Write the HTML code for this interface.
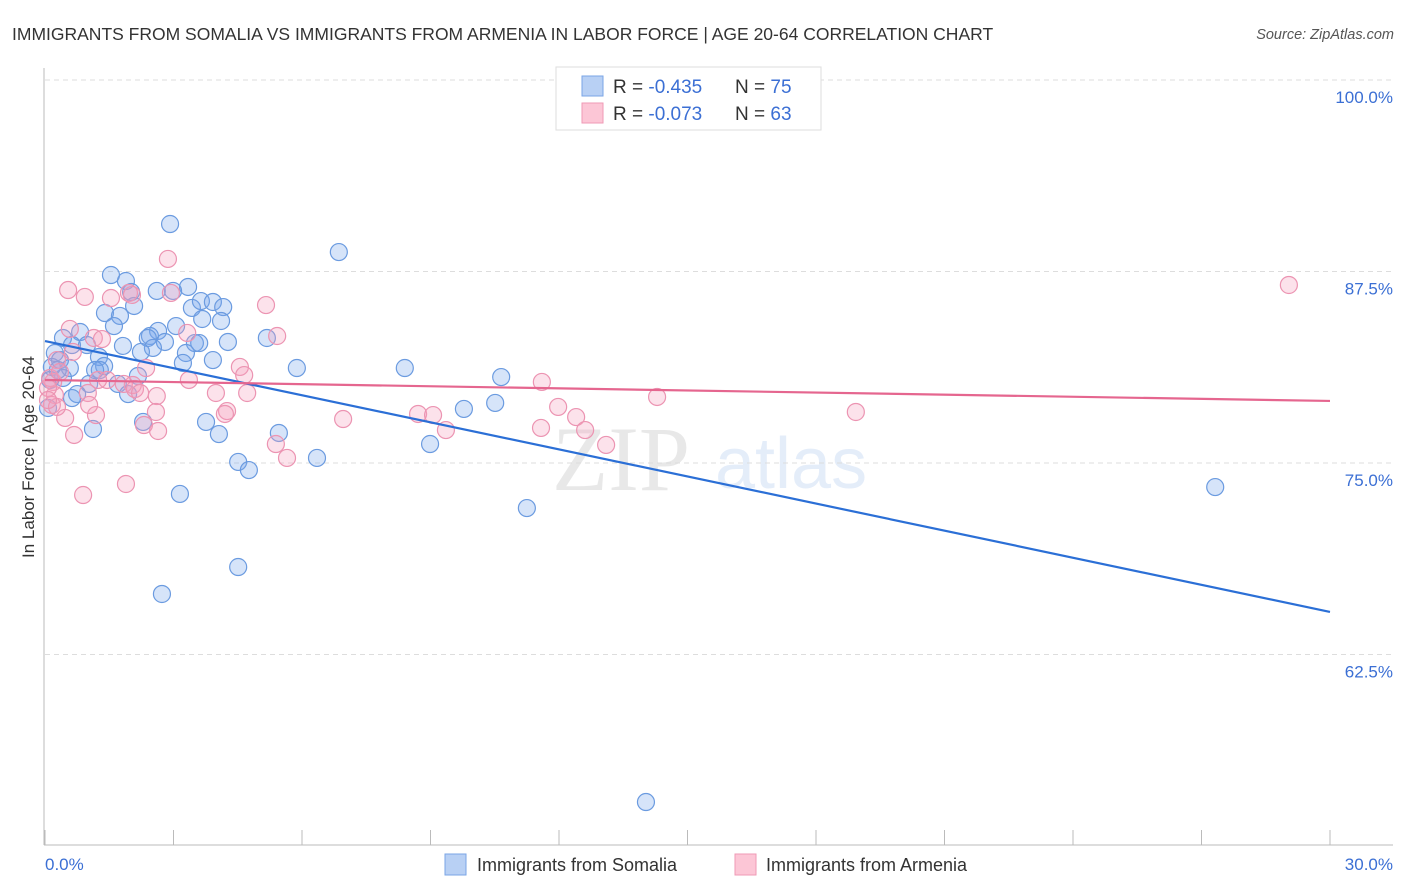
<!DOCTYPE html>
<html><head><meta charset="utf-8"><style>
body{margin:0;background:#fff;font-family:"Liberation Sans",sans-serif;}
svg{display:block}
</style></head><body>
<svg id="chart" width="1406" height="892" xmlns="http://www.w3.org/2000/svg">
<text x="12" y="40" font-size="17.5" fill="#333">IMMIGRANTS FROM SOMALIA VS IMMIGRANTS FROM ARMENIA IN LABOR FORCE | AGE 20-64 CORRELATION CHART</text>
<text x="1394" y="39" font-size="14.5" font-style="italic" fill="#555" text-anchor="end">Source: ZipAtlas.com</text>
<g opacity="0.13">
<text x="552" y="490" font-size="92" font-family="Liberation Serif,serif" fill="#555">ZIP</text>
<text x="715" y="488" font-size="72" fill="#3b78d8">atlas</text>
</g>
<g id="grid"></g>
<line x1="44" y1="68" x2="44" y2="845" stroke="#bbb"/>
<line x1="44" y1="845" x2="1393" y2="845" stroke="#bbb"/>
<g id="xticks"></g>
<g id="ylabels"></g>
<text x="45" y="870" font-size="17" fill="#3b6fd4">0.0%</text>
<text x="1393" y="870" font-size="17" fill="#3b6fd4" text-anchor="end">30.0%</text>
<text transform="translate(34,457) rotate(-90)" font-size="17" fill="#333" text-anchor="middle">In Labor Force | Age 20-64</text>
<g id="pts"></g>
<g id="lines"></g>
<g>
<rect x="556" y="67" width="265" height="63" fill="#fff" stroke="#ddd"/>
<rect x="582" y="76" width="21" height="20" fill="#b8d0f4" stroke="#7aa5e6"/>
<rect x="582" y="103" width="21" height="20" fill="#fcc6d6" stroke="#ef9ab5"/>
<text x="613" y="93" font-size="19" fill="#333">R = <tspan fill="#3b6fd4">-0.435</tspan><tspan x="735">N = </tspan><tspan fill="#3b6fd4">75</tspan></text>
<text x="613" y="120" font-size="19" fill="#333">R = <tspan fill="#3b6fd4">-0.073</tspan><tspan x="735">N = </tspan><tspan fill="#3b6fd4">63</tspan></text>
</g>
<g>
<rect x="445" y="854" width="21" height="21" fill="#b8d0f4" stroke="#7aa5e6"/>
<text x="477" y="871" font-size="18" fill="#333">Immigrants from Somalia</text>
<rect x="735" y="854" width="21" height="21" fill="#fcc6d6" stroke="#ef9ab5"/>
<text x="766" y="871" font-size="18" fill="#333">Immigrants from Armenia</text>
</g>
</svg>
<script>
const yTicks=[100,87.5,75,62.5];
const yTickLabels=["100.0%","87.5%","75.0%","62.5%"];
const xTickVals=[0,3,6,9,12,15,18,21,24,27,30];
const somaliaX=[2.92,6.86,1.54,1.89,2.01,2.61,3.34,2.99,2.08,3.43,3.64,3.92,4.16,1.40,1.75,3.67,4.11,1.61,3.06,2.64,2.45,2.40,2.80,0.42,0.82,0.63,0.98,1.82,3.50,3.60,4.27,5.18,2.52,2.24,3.29,3.92,0.23,0.35,1.26,1.38,1.28,0.58,5.88,8.40,2.17,0.42,10.65,1.03,1.70,1.94,0.75,10.51,9.78,2.29,3.76,1.12,4.06,5.46,8.99,4.51,6.35,4.76,3.15,11.25,27.32,4.51,2.73,14.03,0.16,0.07,0.12,0.30,1.17,0.63,3.22];
const somaliaY=[90.60,88.77,87.27,86.88,86.16,86.23,86.49,86.23,85.25,85.12,85.57,85.51,85.18,84.79,84.60,84.40,84.27,83.94,83.94,83.62,83.29,83.16,82.90,83.16,83.55,82.70,82.70,82.64,82.83,82.83,82.90,83.16,82.51,82.25,82.18,81.72,82.18,81.72,81.92,81.33,81.07,81.20,81.20,81.20,80.68,80.55,80.61,80.16,80.16,79.50,79.50,78.92,78.53,77.68,77.68,77.22,76.89,76.96,76.24,75.07,75.33,74.54,72.98,72.06,73.43,68.21,66.45,52.87,81.27,78.59,80.42,81.07,81.07,79.24,81.53];
const armeniaX=[0.54,0.93,1.96,2.87,2.94,5.16,1.54,0.58,1.14,1.33,5.42,3.32,0.65,0.28,2.36,4.55,4.65,3.36,1.45,2.05,1.84,0.19,0.23,1.00,2.61,3.99,4.72,11.60,14.29,18.93,11.98,8.71,9.06,12.40,4.25,2.59,1.19,0.47,2.31,6.96,11.58,9.36,2.64,0.68,12.61,5.39,13.10,5.65,0.89,1.89,29.04,0.12,0.16,0.28,1.24,1.03,2.10,4.20,0.35,0.07,2.22,2.03,0.07];
const armeniaY=[86.29,85.84,86.10,88.32,86.10,85.31,85.77,83.75,83.16,83.09,83.29,83.49,82.25,81.72,81.20,81.27,80.74,80.42,80.42,80.09,80.16,80.29,79.44,79.57,79.37,79.57,79.57,80.29,79.31,78.33,78.66,78.20,78.13,78.00,78.39,78.33,78.13,77.94,77.48,77.87,77.29,77.15,77.09,76.83,77.15,76.24,76.18,75.33,72.91,73.63,86.62,80.55,78.79,78.66,80.42,78.79,79.83,78.20,80.94,79.90,79.57,85.97,79.11];
const somaliaTrend=[82.96,65.28];
const armeniaTrend=[80.42,79.05];
const NS="http://www.w3.org/2000/svg";
function sx(v){return 45+v/30*1285;}
function sy(v){return 80+(100-v)/12.5*191.5;}
function mk(tag,attrs,parent){const e=document.createElementNS(NS,tag);for(const k in attrs)e.setAttribute(k,attrs[k]);parent.appendChild(e);return e;}
const grid=document.getElementById('grid'),yl=document.getElementById('ylabels'),xt=document.getElementById('xticks');
yTicks.forEach((t,i)=>{
 const l=mk('line',{x1:45,x2:1393,y1:sy(t),y2:sy(t),stroke:'#ddd','stroke-dasharray':'5,4'},grid);
 
 
 const tx=mk('text',{x:1393,y:sy(t)+23,'font-size':17,fill:'#3b6fd4','text-anchor':'end'},yl);
 tx.textContent=yTickLabels[i];
 
 
});
xTickVals.forEach(v=>{
 const l=mk('line',{x1:sx(v),x2:sx(v),y1:830,y2:845,stroke:'#bbb'},xt);
 
 
});
const pts=document.getElementById('pts');
function series(xs,ys,fill,stroke,name){
 xs.forEach((x,i)=>{
  const c=mk('circle',{cx:sx(x),cy:sy(ys[i]),r:8.5,fill:fill,stroke:stroke,'stroke-width':1.2},pts);
  
  
 });
}
series(somaliaX,somaliaY,'rgba(120,165,235,0.3)','#6b9be0','point-somalia');
series(armeniaX,armeniaY,'rgba(245,160,190,0.3)','#ec94b2','point-armenia');
const lines=document.getElementById('lines');
const t1=mk('line',{x1:sx(0),y1:sy(somaliaTrend[0]),x2:sx(30),y2:sy(somaliaTrend[1]),stroke:'#2b6fd6','stroke-width':2.2},lines);


const t2=mk('line',{x1:sx(0),y1:sy(armeniaTrend[0]),x2:sx(30),y2:sy(armeniaTrend[1]),stroke:'#e5668f','stroke-width':2.2},lines);


</script>
</body></html>
